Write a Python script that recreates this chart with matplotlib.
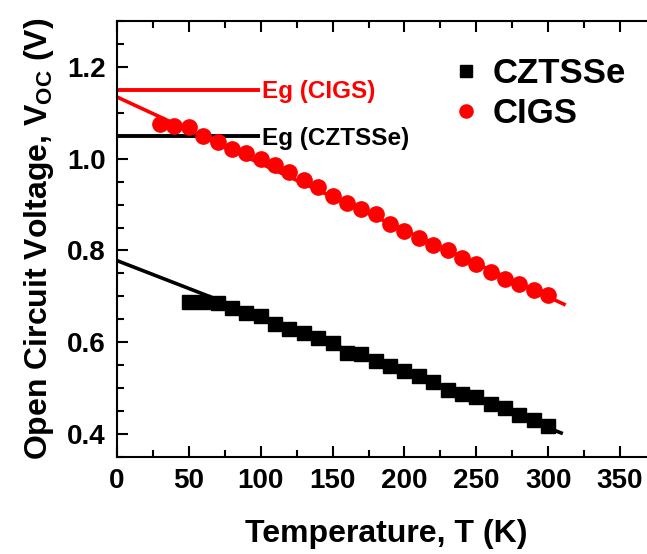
import numpy as np
import matplotlib.pyplot as plt
from matplotlib.ticker import MultipleLocator

plt.rcParams['font.family'] = ['Liberation Sans', 'DejaVu Sans']
plt.rcParams['font.weight'] = 'bold'
plt.rcParams['mathtext.fontset'] = 'custom'
plt.rcParams['mathtext.rm'] = 'Liberation Sans:bold'
plt.rcParams['mathtext.it'] = 'Liberation Sans:bold'
plt.rcParams['mathtext.bf'] = 'Liberation Sans:bold'

# CZTSSe data (squares)
T_czts = np.arange(50, 301, 10)
V_czts = [0.687, 0.687, 0.685, 0.675, 0.665, 0.657, 0.640, 0.630, 0.620, 0.609,
          0.598, 0.578, 0.574, 0.560, 0.549, 0.538, 0.526, 0.514, 0.497, 0.487,
          0.481, 0.465, 0.457, 0.443, 0.431, 0.418]

# CIGS data (circles)
T_cigs = np.arange(30, 301, 10)
V_cigs = [1.076, 1.071, 1.068, 1.050, 1.037, 1.021, 1.012, 0.999, 0.986, 0.970,
          0.954, 0.939, 0.919, 0.903, 0.890, 0.879, 0.858, 0.843, 0.827, 0.811,
          0.800, 0.784, 0.770, 0.754, 0.738, 0.726, 0.715, 0.703]

# linear fits extrapolated to 0 K
fit_czts_T = [0, 309]
fit_czts_V = [0.778, 0.403]
fit_cigs_T = [0, 311]
fit_cigs_V = [1.134, 0.683]

# band gap levels
eg_T = [0, 98]
eg_cigs = 1.15
eg_czts = 1.05

W, H = 647, 554
fig = plt.figure(figsize=(W/100, H/100), dpi=100)
ax = fig.add_axes([117/W, (H-457.3)/H, (656-117)/W, (457.3-20.7)/H])

ax.plot(fit_czts_T, fit_czts_V, color='black', lw=2.6, zorder=2)
ax.plot(fit_cigs_T, fit_cigs_V, color='red', lw=2.6, zorder=2)
ax.plot(eg_T, [eg_cigs, eg_cigs], color='red', lw=2.8)
ax.plot(eg_T, [eg_czts, eg_czts], color='black', lw=2.8)

ax.plot(T_czts, V_czts, 's', color='black', ms=10, ls='none', label='CZTSSe', zorder=3)
ax.plot(T_cigs, V_cigs, 'o', color='red', ms=11, ls='none', label='CIGS', zorder=3)

ax.text(101, eg_cigs - 0.004, 'Eg (CIGS)', color='red', fontsize=17.5, fontweight='bold', va='center')
ax.text(101, eg_czts - 0.006, 'Eg (CZTSSe)', color='black', fontsize=17.5, fontweight='bold', va='center')

leg = ax.legend(loc='upper left', bbox_to_anchor=(456/W, 1 - 57/H), bbox_transform=fig.transFigure,
                frameon=False, fontsize=25, handlelength=0.6, handletextpad=0.46,
                markerscale=0.86, labelspacing=0.2, borderpad=0, borderaxespad=0)

ax.set_xlim(0, 375)
ax.set_ylim(0.35, 1.3)
ax.xaxis.set_minor_locator(MultipleLocator(25))
ax.yaxis.set_minor_locator(MultipleLocator(0.05))
ax.set_xticks(np.arange(0, 351, 50))
ax.set_yticks([0.4, 0.6, 0.8, 1.0, 1.2])
ax.tick_params(which='both', direction='in', top=True, right=False, width=1.5, labelsize=20, pad=8)
ax.tick_params(which='major', length=8)
ax.tick_params(which='minor', length=5)
for lab in ax.get_xticklabels() + ax.get_yticklabels():
    lab.set_fontweight('bold')
for s in ax.spines.values():
    s.set_linewidth(1.5)
ax.spines['right'].set_visible(False)

ax.set_xlabel('Temperature, T (K)', fontsize=23, fontweight='bold', labelpad=18)
ax.set_ylabel('Open Circuit Voltage, V$_{\\mathrm{OC}}$ (V)', fontsize=23, fontweight='bold', labelpad=8)

fig.savefig('out.png', dpi=100)
